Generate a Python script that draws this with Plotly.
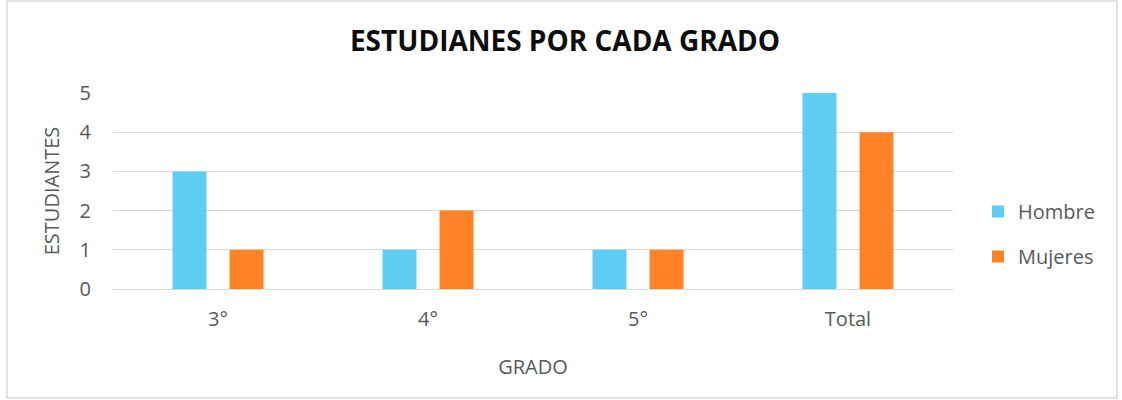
import plotly.graph_objects as go

categorias = ["3°", "4°", "5°", "Total"]
hombre = [3, 1, 1, 5]
mujeres = [1, 2, 1, 4]
y_ticks = [0, 1, 2, 3, 4, 5]

FONT = "Open Sans, Noto Sans, sans-serif"
GRAY = "#595959"

fig = go.Figure()
fig.add_trace(go.Bar(name="Hombre", x=categorias, y=hombre, marker_color="#5ECDF3",
                     marker_line_width=0, legendgroup="h"))
fig.add_trace(go.Bar(name="Mujeres", x=categorias, y=mujeres, marker_color="#FF8326",
                     marker_line_width=0, legendgroup="m"))

W, H = 1122, 400
L, R, T, B = 113, 169, 93, 111
pw = W - L - R
ph = H - T - B

def px_x(p):
    return (p - L) / pw

def px_y(p):
    return (H - B - p) / ph

fig.update_layout(
    width=W, height=H,
    margin=dict(l=L, r=R, t=T, b=B, autoexpand=False),
    paper_bgcolor="white", plot_bgcolor="white",
    font=dict(family=FONT, color=GRAY, size=20),
    title=dict(text="<b>ESTUDIANES POR CADA GRADO</b>", x=565 / W, xanchor="center",
               y=1 - 41 / H, yanchor="middle",
               font=dict(size=28, color="#0D0D0D", family=FONT)),
    barmode="group", bargap=0.457, bargroupgap=0.404,
    xaxis=dict(title=dict(text="GRADO", standoff=28, font=dict(size=20, color=GRAY)),
               showgrid=False, showline=True, linecolor="#D9D9D9", linewidth=1.3,
               ticks="", tickfont=dict(size=20, color=GRAY), ticklabelstandoff=12),
    yaxis=dict(title=dict(text="ESTUDIANTES", standoff=14, font=dict(size=20, color=GRAY)),
               range=[0, 5], tickvals=y_ticks, showgrid=True, gridcolor="#D9D9D9",
               gridwidth=1.3, zeroline=True, zerolinecolor="#D9D9D9", zerolinewidth=1.3,
               showline=False, ticks="", tickfont=dict(size=20, color=GRAY),
               ticklabelstandoff=21),
    legend=dict(x=px_x(978), y=px_y(234), xanchor="left", yanchor="middle",
                font=dict(size=20, color=GRAY), tracegroupgap=16,
                itemwidth=30, bgcolor="rgba(0,0,0,0)"),
    showlegend=True,
    shapes=[dict(type="rect", xref="paper", yref="paper",
                 x0=px_x(7), x1=px_x(1117), y0=px_y(398), y1=px_y(1),
                 line=dict(color="#D9D9D9", width=1.5), fillcolor="rgba(0,0,0,0)",
                 layer="below")],
)

fig.write_html("out.html", config={"displayModeBar": False},
               post_script="document.body.style.margin='0';")
